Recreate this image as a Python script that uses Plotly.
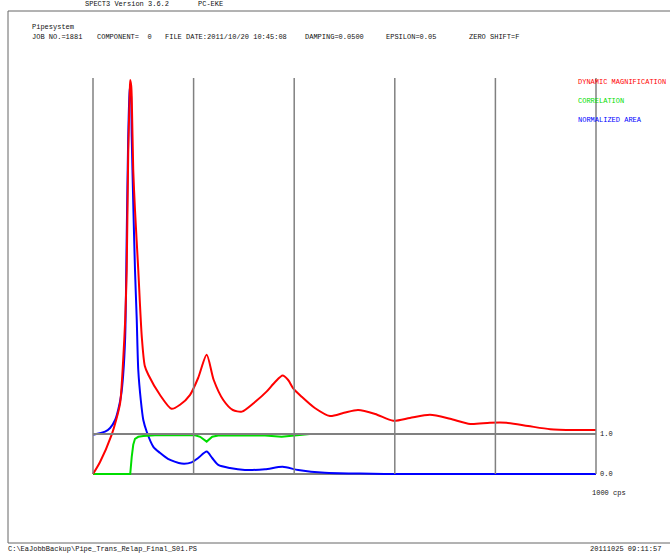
import plotly.graph_objects as go

# ---- spectrum data (frequency axis 0..1000 cps) ----
freq_dyn = [0, 14, 37, 46, 54, 60, 64, 67, 70, 73, 74, 76, 77, 80, 83.5, 90, 97, 103, 110,
            133, 156, 173, 193, 209, 226, 240, 259, 278, 296, 322, 345, 362, 377, 388, 398,
            415, 441, 471, 499, 527, 561, 597, 630, 670, 710, 750, 789, 822, 865, 909, 958, 1000]
dyn_mag = [0, 0.3, 0.98, 1.35, 1.78, 2.85, 3.85, 5.1, 8.0, 9.5, 9.85, 9.7, 9.43, 7.6, 6.6, 5.1,
           3.43, 2.7, 2.48, 1.98, 1.63, 1.73, 1.98, 2.4, 2.98, 2.35, 1.85, 1.6, 1.56, 1.8, 2.06,
           2.3, 2.46, 2.35, 2.14, 1.93, 1.65, 1.45, 1.53, 1.6, 1.5, 1.33, 1.4, 1.48, 1.38, 1.25,
           1.28, 1.28, 1.2, 1.12, 1.1, 1.1]

freq_corr = [0, 74, 77, 80, 83.5, 90, 100, 123, 153, 203, 213, 226, 237, 249, 292, 342, 375,
             396, 431, 1000]
correlation = [0, 0, 0.43, 0.73, 0.88, 0.93, 0.95, 0.97, 0.97, 0.97, 0.93, 0.81, 0.93, 0.96,
               0.97, 0.96, 0.93, 0.96, 1.0, 1.0]

freq_area = [0, 24, 34, 44, 50, 56, 60, 64, 67, 70, 73, 75, 77, 80, 83.5, 87, 90, 95, 100,
             107, 120, 133, 149, 176, 196, 209, 226, 237, 249, 272, 302, 342, 377, 408, 461,
             531, 610, 1000]
norm_area = [0.98, 1.06, 1.15, 1.35, 1.6, 1.98, 2.48, 3.43, 5.93, 8.43, 9.6, 9.73, 8.43, 6.78,
             5.1, 3.85, 2.6, 1.85, 1.35, 1.05, 0.68, 0.53, 0.38, 0.26, 0.29, 0.4, 0.56, 0.4,
             0.23, 0.15, 0.1, 0.12, 0.18, 0.1, 0.03, 0.01, 0, 0]

grid_x = [0, 200, 400, 600, 800, 1000]
ref_levels = [0.0, 1.0]
ref_labels = ["0.0", "1.0"]
y_top = 9.9

legend_names = ["DYNAMIC MAGNIFICATION", "CORRELATION", "NORMALIZED AREA"]
legend_colors = ["#ff0000", "#00dd00", "#0000ff"]

W, H = 670, 555
FONT = "Liberation Mono"
GRAY = "#808080"
TXT = "#111"


def px(x):
    return x / W


def py(y):
    return 1 - y / H


fig = go.Figure()

fig.add_trace(go.Scatter(x=freq_area, y=norm_area, mode="lines", line_shape="spline",
                         line=dict(color=legend_colors[2], width=2, smoothing=0.7),
                         hoverinfo="skip"))
fig.add_trace(go.Scatter(x=freq_corr, y=correlation, mode="lines", line_shape="linear",
                         line=dict(color=legend_colors[1], width=2), hoverinfo="skip"))
fig.add_trace(go.Scatter(x=freq_dyn, y=dyn_mag, mode="lines", line_shape="spline",
                         line=dict(color=legend_colors[0], width=2, smoothing=0.7),
                         hoverinfo="skip"))

# vertical grid lines
for gx in grid_x:
    fig.add_shape(type="line", x0=gx, x1=gx, y0=0, y1=y_top, xref="x", yref="y",
                  line=dict(color=GRAY, width=1.5), layer="above")

# reference levels 0.0 and 1.0
for lvl, lab in zip(ref_levels, ref_labels):
    fig.add_shape(type="line", x0=grid_x[0], x1=grid_x[-1], y0=lvl, y1=lvl,
                  xref="x", yref="y", line=dict(color=GRAY, width=2.2),
                  layer="above" if lvl > 0 else "below")
    fig.add_annotation(x=grid_x[-1], y=lvl, xref="x", yref="y", text=lab, showarrow=False,
                       xanchor="left", yanchor="middle", xshift=2,
                       font=dict(family=FONT, size=7, color=TXT))

fig.add_annotation(x=px(590), y=py(493), xref="paper", yref="paper", text="1000 cps",
                   showarrow=False, xanchor="left", yanchor="middle",
                   font=dict(family=FONT, size=7, color=TXT))

# legend labels
for i, (name, col) in enumerate(zip(legend_names, legend_colors)):
    fig.add_annotation(x=px(576), y=py(82 + 19 * i), xref="paper", yref="paper", text=name,
                       showarrow=False, xanchor="left", yanchor="middle",
                       font=dict(family=FONT, size=7, color=col))

# header and footer texts
texts = [
    (83, 4, "SPECT3 Version 3.6.2"),
    (196, 4, "PC-EKE"),
    (30, 27, "Pipesystem"),
    (30, 37, "JOB NO.=1881"),
    (95, 37, "COMPONENT=  0"),
    (163, 37, "FILE DATE:2011/10/20 10:45:08"),
    (303, 37, "DAMPING=0.0500"),
    (384, 37, "EPSILON=0.05"),
    (467, 37, "ZERO SHIFT=F"),
    (6, 549, "C:\\EaJobbBackup\\Pipe_Trans_Relap_Final_S01.PS"),
    (588, 549, "20111025 09:11:57"),
]
for x, y, t in texts:
    fig.add_annotation(x=px(x), y=py(y), xref="paper", yref="paper", text=t,
                       showarrow=False, xanchor="left", yanchor="middle",
                       font=dict(family=FONT, size=7, color=TXT))

# page frame
fig.add_shape(type="rect", x0=px(8), x1=px(675), y0=py(543), y1=py(11),
              xref="paper", yref="paper", line=dict(color="#666", width=1))

# map data to the page: x 0..1000 -> 93..596 px, y 0 -> 474 px, 1 unit = 40 px
x0_px, x1_px = 93, 596
y0_px, unit = 474, 40
xs = 1000 / (x1_px - x0_px)
fig.update_xaxes(range=[-x0_px * xs, (W - x0_px) * xs], visible=False, fixedrange=True)
fig.update_yaxes(range=[(y0_px - H) / unit, y0_px / unit], visible=False, fixedrange=True)

fig.update_layout(width=W, height=H, margin=dict(l=0, r=0, t=0, b=0),
                  paper_bgcolor="white", plot_bgcolor="white", showlegend=False)

fig.write_html("out.html")
